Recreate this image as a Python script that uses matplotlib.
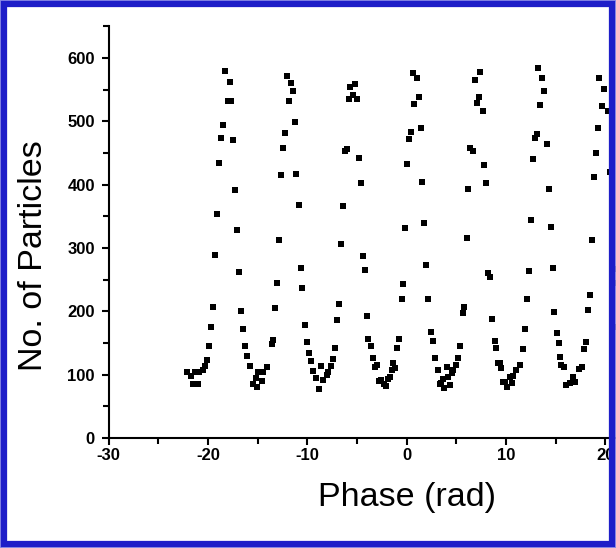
import matplotlib
matplotlib.use("Agg")
import matplotlib.pyplot as plt
from matplotlib.patches import Rectangle
from matplotlib.ticker import MultipleLocator

plt.rcParams['font.family'] = ['Liberation Sans', 'DejaVu Sans']
plt.rcParams['axes.unicode_minus'] = False

# phase (rad) and particle counts, one cycle at a time
phase_a = [-22.15, -21.75, -21.5, -21.3, -21.0, -20.95, -20.54, -20.3, -20.08, -19.88,
           -19.7, -19.48, -19.3, -19.1, -18.93, -18.7, -18.53, -18.3, -18.0, -17.8,
           -17.65, -17.46, -17.3, -17.06, -16.86, -16.72, -16.5, -16.3, -16.05, -15.78]
count_a = [105, 98, 86, 104, 86, 104, 107, 114, 123, 146,
           176, 207, 289, 354, 435, 474, 494, 580, 533, 562,
           533, 471, 392, 329, 262, 200, 172, 146, 130, 113]

phase_b = [-15.45, -15.17, -15.04, -14.94, -14.6, -14.44, -14.1, -13.6, -13.43, -13.26,
           -13.03, -12.86, -12.7, -12.5, -12.26, -12.09, -11.85, -11.65, -11.48, -11.28,
           -11.1, -10.8, -10.67, -10.5, -10.27, -10.0, -9.8, -9.64]
count_b = [86, 95, 80, 105, 90, 105, 112, 148, 155, 205,
           245, 312, 416, 458, 482, 572, 532, 560, 548, 499,
           417, 368, 269, 237, 179, 151, 134, 122]

phase_c = [-9.4, -9.13, -8.86, -8.66, -8.4, -8.06, -7.9, -7.65, -7.39, -7.22,
           -7.05, -6.82, -6.6, -6.45, -6.2, -6.04, -5.84, -5.7, -5.44, -5.2,
           -5.04, -4.83, -4.63, -4.43, -4.2, -4.03, -3.87, -3.63]
count_c = [106, 95, 78, 113, 92, 99, 105, 114, 125, 142,
           187, 212, 307, 367, 454, 457, 536, 555, 542, 559,
           536, 442, 402, 287, 265, 192, 156, 146]

phase_d = [-3.42, -3.2, -3.0, -2.79, -2.55, -2.26, -2.1, -1.85, -1.68, -1.5,
           -1.4, -1.18, -1.0, -0.8, -0.5, -0.4, -0.17, 0.0, 0.2, 0.4,
           0.6, 0.73, 1.0, 1.2, 1.4, 1.57, 1.74, 1.94, 2.17, 2.42,
           2.62, 2.85]
count_d = [126, 112, 116, 90, 92, 86, 82, 94, 97, 107,
           118, 110, 142, 157, 220, 244, 331, 432, 472, 484,
           577, 527, 568, 538, 490, 405, 339, 273, 220, 168,
           153, 127]

phase_e = [3.18, 3.35, 3.5, 3.69, 3.8, 4.03, 4.19, 4.36, 4.53, 4.7,
           4.97, 5.2, 5.37, 5.64, 5.77, 6.04, 6.2, 6.38, 6.65, 6.85,
           7.05, 7.25, 7.38, 7.65, 7.82, 8.02, 8.22, 8.39, 8.62, 8.9,
           9.0, 9.23, 9.4, 9.5]
count_e = [107, 85, 87, 94, 79, 112, 97, 84, 103, 107,
           115, 127, 145, 197, 207, 316, 394, 458, 454, 566,
           529, 538, 578, 516, 431, 402, 260, 255, 188, 153,
           142, 118, 118, 110]

phase_f = [9.66, 9.9, 10.07, 10.4, 10.6, 10.74, 11.0, 11.4, 11.68, 11.9,
           12.08, 12.28, 12.49, 12.69, 12.89, 13.09, 13.25, 13.45, 13.65, 13.86,
           14.13, 14.3, 14.5, 14.7, 14.87, 15.1, 15.3, 15.47, 15.6, 15.85]
count_f = [89, 89, 81, 97, 87, 98, 107, 115, 141, 172,
           220, 263, 345, 441, 474, 480, 585, 526, 568, 548,
           465, 394, 334, 268, 199, 166, 150, 128, 115, 112]

phase_g = [16.1, 16.44, 16.72, 16.95, 17.32, 17.63, 17.85, 18.03, 18.26, 18.46,
           18.66, 18.83, 19.03, 19.23, 19.4, 19.64, 19.9, 20.3, 20.47, 20.64,
           20.8, 20.87, 21.0]
count_g = [84, 87, 97, 89, 109, 112, 141, 151, 202, 226,
           312, 412, 450, 489, 568, 524, 551, 517, 420, 375,
           267, 245, 176]

phase = phase_a + phase_b + phase_c + phase_d + phase_e + phase_f + phase_g
counts = count_a + count_b + count_c + count_d + count_e + count_f + count_g

fig = plt.figure(figsize=(6.16, 5.48), dpi=100)
# the axes run past the right edge, the original picture is cropped there
ax = fig.add_axes([0.1766, 0.2007, 0.967, 0.751])

ax.plot(phase, counts, 's', color='black', markersize=4.3, markeredgewidth=0)

ax.set_xlim(-30, 30)
ax.set_ylim(0, 650)
ax.xaxis.set_major_locator(MultipleLocator(10))
ax.xaxis.set_minor_locator(MultipleLocator(5))
ax.yaxis.set_major_locator(MultipleLocator(100))
ax.yaxis.set_minor_locator(MultipleLocator(50))
ax.set_yticks([0, 100, 200, 300, 400, 500, 600])

for side in ['top', 'right']:
    ax.spines[side].set_visible(False)
for side in ['left', 'bottom']:
    ax.spines[side].set_linewidth(1.5)

ax.tick_params(which='major', direction='out', length=5, width=1.5)
ax.tick_params(which='minor', direction='out', length=4, width=1.5)
ax.tick_params(axis='x', pad=2)
ax.tick_params(axis='y', pad=5)
for lab in ax.get_xticklabels() + ax.get_yticklabels():
    lab.set_fontweight('bold')
    lab.set_fontsize(12)

ax.set_xlabel('Phase (rad)', fontsize=24.5)
ax.set_ylabel('No. of Particles', fontsize=24.5)
ax.xaxis.set_label_coords(0.5, -0.107)
ax.yaxis.set_label_coords(-0.101, 0.444)

# blue frame round the picture
fig.patches.append(Rectangle((0, 0), 1, 1, transform=fig.transFigure, fill=False,
                             edgecolor='#8c8ce6', linewidth=2, zorder=10))
fig.patches.append(Rectangle((4 / 616, 4 / 548), 1 - 8 / 616, 1 - 8 / 548,
                             transform=fig.transFigure, fill=False,
                             edgecolor='#1e1ec8', linewidth=4.5, zorder=11))

fig.savefig('out.png', dpi=100)
